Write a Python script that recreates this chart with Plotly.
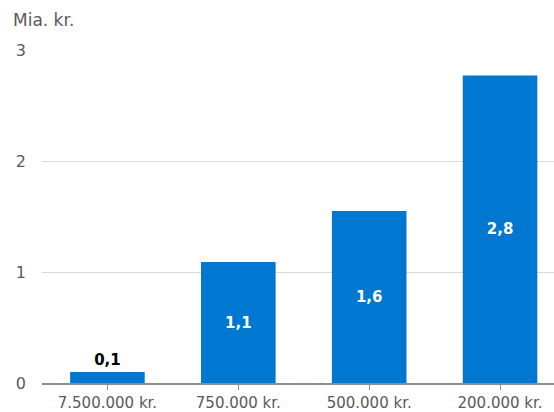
import plotly.graph_objects as go

categories = ["7.500.000 kr.", "750.000 kr.", "500.000 kr.", "200.000 kr."]
values = [0.1, 1.09, 1.55, 2.77]
labels = ["0,1", "1,1", "1,6", "2,8"]
positions = ["outside", "inside", "inside", "inside"]

W, H = 554, 412
ml, mt, mb = 41.5, 50, 29
pw = W - ml
step = 131.0
xmax = -0.5 + pw / step
FONT = "DejaVu Sans"

fig = go.Figure(go.Bar(
    x=list(range(len(categories))), y=values, text=labels, textposition=positions,
    insidetextanchor="middle", width=0.57,
    marker=dict(color="#0078D2", line=dict(width=0)),
    insidetextfont=dict(color="white", size=15, family=FONT, weight="bold"),
    outsidetextfont=dict(color="black", size=15, family=FONT, weight="bold"),
    cliponaxis=False,
))

fig.update_layout(
    width=W, height=H, margin=dict(l=ml, r=0, t=mt, b=mb),
    plot_bgcolor="white", paper_bgcolor="white", showlegend=False,
    font=dict(family=FONT, size=16, color="#595959"),
    xaxis=dict(range=[-0.5, xmax], tickmode="array", tickvals=list(range(len(categories))),
               ticktext=categories, showgrid=False, showline=True, linecolor="#8c8c8c",
               linewidth=1.5, ticks="outside", tickson="boundaries", ticklen=5,
               tickcolor="#8c8c8c", zeroline=False, ticklabelstandoff=0, automargin=False,
               tickfont=dict(size=15)),
    yaxis=dict(range=[0, 3], tickvals=[0, 1, 2, 3], showgrid=True, gridcolor="#d9d9d9",
               gridwidth=1, zeroline=False, ticks="", ticklabelstandoff=15, automargin=False),
    annotations=[dict(text="Mia. kr.", xref="paper", yref="paper",
                      x=(10 - ml) / pw, y=(383 - 20) / 333,
                      xanchor="left", yanchor="middle", showarrow=False,
                      font=dict(size=17, color="#595959", family=FONT))],
)

fig.write_html("out.html")
